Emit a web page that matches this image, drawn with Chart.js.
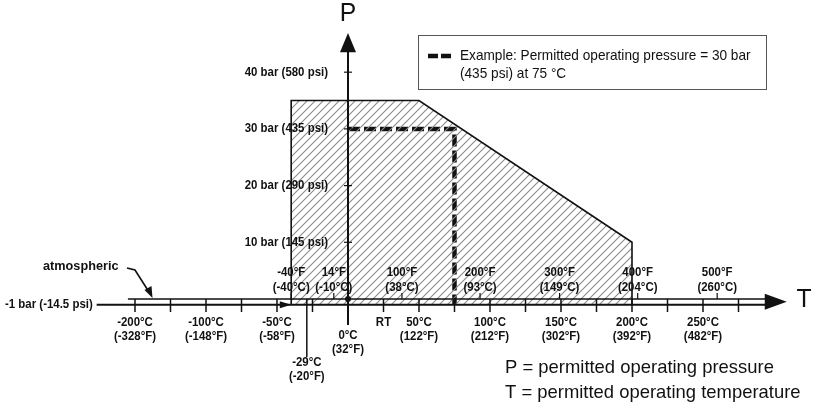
<!DOCTYPE html>
<html>
<head>
<meta charset="utf-8">
<script src="https://cdn.jsdelivr.net/npm/chart.js@4/dist/chart.umd.min.js"></script>
<style>
  html, body { margin: 0; padding: 0; background: #fff; }
  #wrap { width: 816px; height: 409px; }
</style>
</head>
<body>
<div id="wrap"><canvas id="ptChart" width="816" height="409"></canvas></div>
<script>
// ===============================
// Data (temperature in °C, pressure in bar)
// ===============================

// permitted operating range (hatched area)
const rangeTemp = [-40, -40, 50, 200, 200];
const rangePressure = [-1, 35, 35, 10, -1];

// example: 30 bar at 75 °C
const exampleTemp = [0, 75, 75];
const examplePressure = [30, 30, -1];

// pressure axis
const pressureTicks = [10, 20, 30, 40];
const pressureLabels = ["10 bar (145 psi)", "20 bar (290 psi)", "30 bar (435 psi)", "40 bar (580 psi)"];

// temperature axis, minor ticks every 25 °C
const tempTickStart = -150;
const tempTickEnd = 275;
const tempTickStep = 25;

// labels under the axis (-200 °C sits on the axis break at the -150 tick)
const lowerTempTicks = [-150, -100, -50, 25, 50, 100, 150, 200, 250];
const lowerTempLabels = [
    ["-200°C", "(-328°F)"], ["-100°C", "(-148°F)"], ["-50°C", "(-58°F)"], ["RT"],
    ["50°C", "(122°F)"], ["100°C", "(212°F)"], ["150°C", "(302°F)"],
    ["200°C", "(392°F)"], ["250°C", "(482°F)"]
];

// labels above the axis (Fahrenheit marks)
const upperTempTicks = [-40, -10, 38, 93, 149, 204, 260];
const upperTempLabels = [
    ["-40°F", "(-40°C)"], ["14°F", "(-10°C)"], ["100°F", "(38°C)"], ["200°F", "(93°C)"],
    ["300°F", "(149°C)"], ["400°F", "(204°C)"], ["500°F", "(260°C)"]
];

// marks with a long drop line
const dropTicks = [0, -29];
const dropLabels = [["0°C", "(32°F)"], ["-29°C", "(-20°F)"]];

// ===============================
// Hatch pattern
// ===============================
function makeHatch() {
    const c = document.createElement("canvas");
    c.width = 8;
    c.height = 8;
    const g = c.getContext("2d");
    g.strokeStyle = "#8c8c8c";
    g.lineWidth = 1.1;
    g.beginPath();
    g.moveTo(-1, 9); g.lineTo(9, -1);
    g.moveTo(-1, 1); g.lineTo(1, -1);
    g.moveTo(7, 9); g.lineTo(9, 7);
    g.stroke();
    return g.createPattern(c, "repeat");
}

const boldFont = 'bold 13px "Liberation Sans", Arial, sans-serif';
const plainFont = '"Liberation Sans", Arial, sans-serif';

// text squeezed horizontally (no narrow font installed)
function squeezeText(ctx, s, x, y, align, sx) {
    const w = ctx.measureText(s).width * sx;
    let left = x;
    if (align === "center") left = x - w / 2;
    if (align === "right") left = x - w;
    ctx.save();
    ctx.textAlign = "left";
    ctx.translate(left, y);
    ctx.scale(sx, 1);
    ctx.fillText(s, 0, 0);
    ctx.restore();
}

// ===============================
// Axes, ticks and texts
// ===============================
const diagramPlugin = {
    id: "diagram",
    afterDatasetsDraw(chart) {
        const ctx = chart.ctx;
        const xs = chart.scales.x;
        const ys = chart.scales.y;
        const X = v => xs.getPixelForValue(v);
        const Y = v => ys.getPixelForValue(v);
        const y0 = Y(0);
        const yVac = Y(-1);
        const x0 = X(0);
        const sq = 0.88;

        ctx.save();
        ctx.strokeStyle = "#111";
        ctx.fillStyle = "#111";

        // temperature axis (atmospheric line + -1 bar line)
        ctx.lineWidth = 1.5;
        ctx.beginPath();
        ctx.moveTo(X(-155), y0);
        ctx.lineTo(X(296), y0);
        ctx.stroke();
        ctx.lineWidth = 2;
        ctx.beginPath();
        ctx.moveTo(X(-177), yVac);
        ctx.lineTo(X(296), yVac);
        ctx.stroke();

        // arrow head T
        ctx.beginPath();
        ctx.moveTo(X(309), (y0 + yVac) / 2);
        ctx.lineTo(X(293.5), (y0 + yVac) / 2 - 8);
        ctx.lineTo(X(293.5), (y0 + yVac) / 2 + 8);
        ctx.closePath();
        ctx.fill();

        // small arrow on -1 bar line
        ctx.beginPath();
        ctx.moveTo(X(-40), yVac);
        ctx.lineTo(X(-48), yVac - 3.5);
        ctx.lineTo(X(-48), yVac + 3.5);
        ctx.closePath();
        ctx.fill();

        // minor ticks
        ctx.lineWidth = 1.5;
        for (let t = tempTickStart; t <= tempTickEnd; t += tempTickStep) {
            ctx.beginPath();
            ctx.moveTo(X(t), y0);
            ctx.lineTo(X(t), y0 + 13);
            ctx.stroke();
        }
        // upward ticks for Fahrenheit marks
        ctx.lineWidth = 1.2;
        upperTempTicks.forEach(t => {
            ctx.beginPath();
            ctx.moveTo(X(t), y0);
            ctx.lineTo(X(t), y0 - 6);
            ctx.stroke();
        });
        // drop lines
        const dropLen = [26, 58];
        dropTicks.forEach((t, i) => {
            ctx.lineWidth = i === 0 ? 2 : 1.5;
            ctx.beginPath();
            ctx.moveTo(X(t), y0);
            ctx.lineTo(X(t), y0 + dropLen[i]);
            ctx.stroke();
        });
        // origin dot
        ctx.beginPath();
        ctx.arc(x0, y0, 3, 0, Math.PI * 2);
        ctx.fill();

        // pressure axis
        ctx.lineWidth = 2;
        ctx.beginPath();
        ctx.moveTo(x0, y0);
        ctx.lineTo(x0, Y(44));
        ctx.stroke();
        ctx.beginPath();
        ctx.moveTo(x0, Y(46.9));
        ctx.lineTo(x0 - 8, Y(43.5));
        ctx.lineTo(x0 + 8, Y(43.5));
        ctx.closePath();
        ctx.fill();
        ctx.lineWidth = 1.2;
        pressureTicks.forEach(p => {
            ctx.beginPath();
            ctx.moveTo(x0 - 4, Y(p));
            ctx.lineTo(x0 + 4, Y(p));
            ctx.stroke();
        });

        // pressure labels
        ctx.font = boldFont;
        ctx.textBaseline = "middle";
        pressureTicks.forEach((p, i) => {
            squeezeText(ctx, pressureLabels[i], x0 - 20, Y(p), "right", sq);
        });

        // temperature labels
        lowerTempTicks.forEach((t, i) => {
            lowerTempLabels[i].forEach((s, k) => squeezeText(ctx, s, X(t), y0 + 23 + k * 14, "center", sq));
        });
        upperTempTicks.forEach((t, i) => {
            upperTempLabels[i].forEach((s, k) => squeezeText(ctx, s, X(t), y0 - 27 + k * 15, "center", sq));
        });
        const dropText = [36, 63];
        dropTicks.forEach((t, i) => {
            dropLabels[i].forEach((s, k) => squeezeText(ctx, s, X(t), y0 + dropText[i] + k * 14, "center", sq));
        });

        // -1 bar label
        squeezeText(ctx, "-1 bar (-14.5 psi)", 5, yVac, "left", sq);

        // atmospheric note with arrow
        ctx.font = 'bold 13.5px ' + plainFont;
        squeezeText(ctx, "atmospheric", 43, 266, "left", 0.94);
        ctx.lineWidth = 1.6;
        ctx.beginPath();
        ctx.moveTo(127, 268);
        ctx.lineTo(135, 270);
        ctx.lineTo(149, 292);
        ctx.stroke();
        ctx.beginPath();
        ctx.moveTo(152.5, y0 - 1);
        ctx.lineTo(144.5, 290);
        ctx.lineTo(151.5, 286);
        ctx.closePath();
        ctx.fill();

        // axis letters
        ctx.font = '26px ' + plainFont;
        squeezeText(ctx, "P", x0, 14, "center", 0.95);
        squeezeText(ctx, "T", 804, y0 + 1, "center", 0.95);

        // legend box
        ctx.lineWidth = 1;
        ctx.strokeStyle = "#555";
        ctx.strokeRect(418.5, 35.5, 348, 54);
        ctx.strokeStyle = "#111";
        ctx.lineWidth = 4.5;
        ctx.setLineDash([10, 3]);
        ctx.beginPath();
        ctx.moveTo(428, 56);
        ctx.lineTo(451, 56);
        ctx.stroke();
        ctx.setLineDash([]);
        ctx.font = "14.5px " + plainFont;
        squeezeText(ctx, "Example: Permitted operating pressure = 30 bar", 460, 56, "left", 0.94);
        squeezeText(ctx, "(435 psi) at 75 °C", 460, 74, "left", 0.94);

        // footnote
        ctx.font = "19px " + plainFont;
        squeezeText(ctx, "P = permitted operating pressure", 505, 368, "left", 0.97);
        squeezeText(ctx, "T = permitted operating temperature", 505, 393, "left", 0.97);

        ctx.restore();
    }
};

// ===============================
// Chart
// ===============================
const ctx = document.getElementById("ptChart");

new Chart(ctx, {
    type: "line",
    data: {
        datasets: [{
            label: "Permitted range",
            data: rangeTemp.map((t, i) => ({ x: t, y: rangePressure[i] })),
            borderColor: "#111",
            borderWidth: 1.6,
            backgroundColor: makeHatch(),
            fill: { value: -1 },
            pointRadius: 0,
            tension: 0
        }, {
            label: "Example",
            data: exampleTemp.map((t, i) => ({ x: t, y: examplePressure[i] })),
            borderColor: "#111",
            borderWidth: 4.5,
            borderDash: [12, 4],
            borderCapStyle: "butt",
            fill: false,
            pointRadius: 0,
            tension: 0
        }]
    },
    options: {
        responsive: false,
        animation: false,
        devicePixelRatio: 1,
        layout: { padding: 0 },
        scales: {
            x: { type: "linear", min: -245.07, max: 329.58, display: false },
            y: { type: "linear", min: -19.4, max: 52.73, display: false }
        },
        plugins: {
            legend: { display: false },
            tooltip: { enabled: false }
        }
    },
    plugins: [diagramPlugin]
});
</script>
</body>
</html>
